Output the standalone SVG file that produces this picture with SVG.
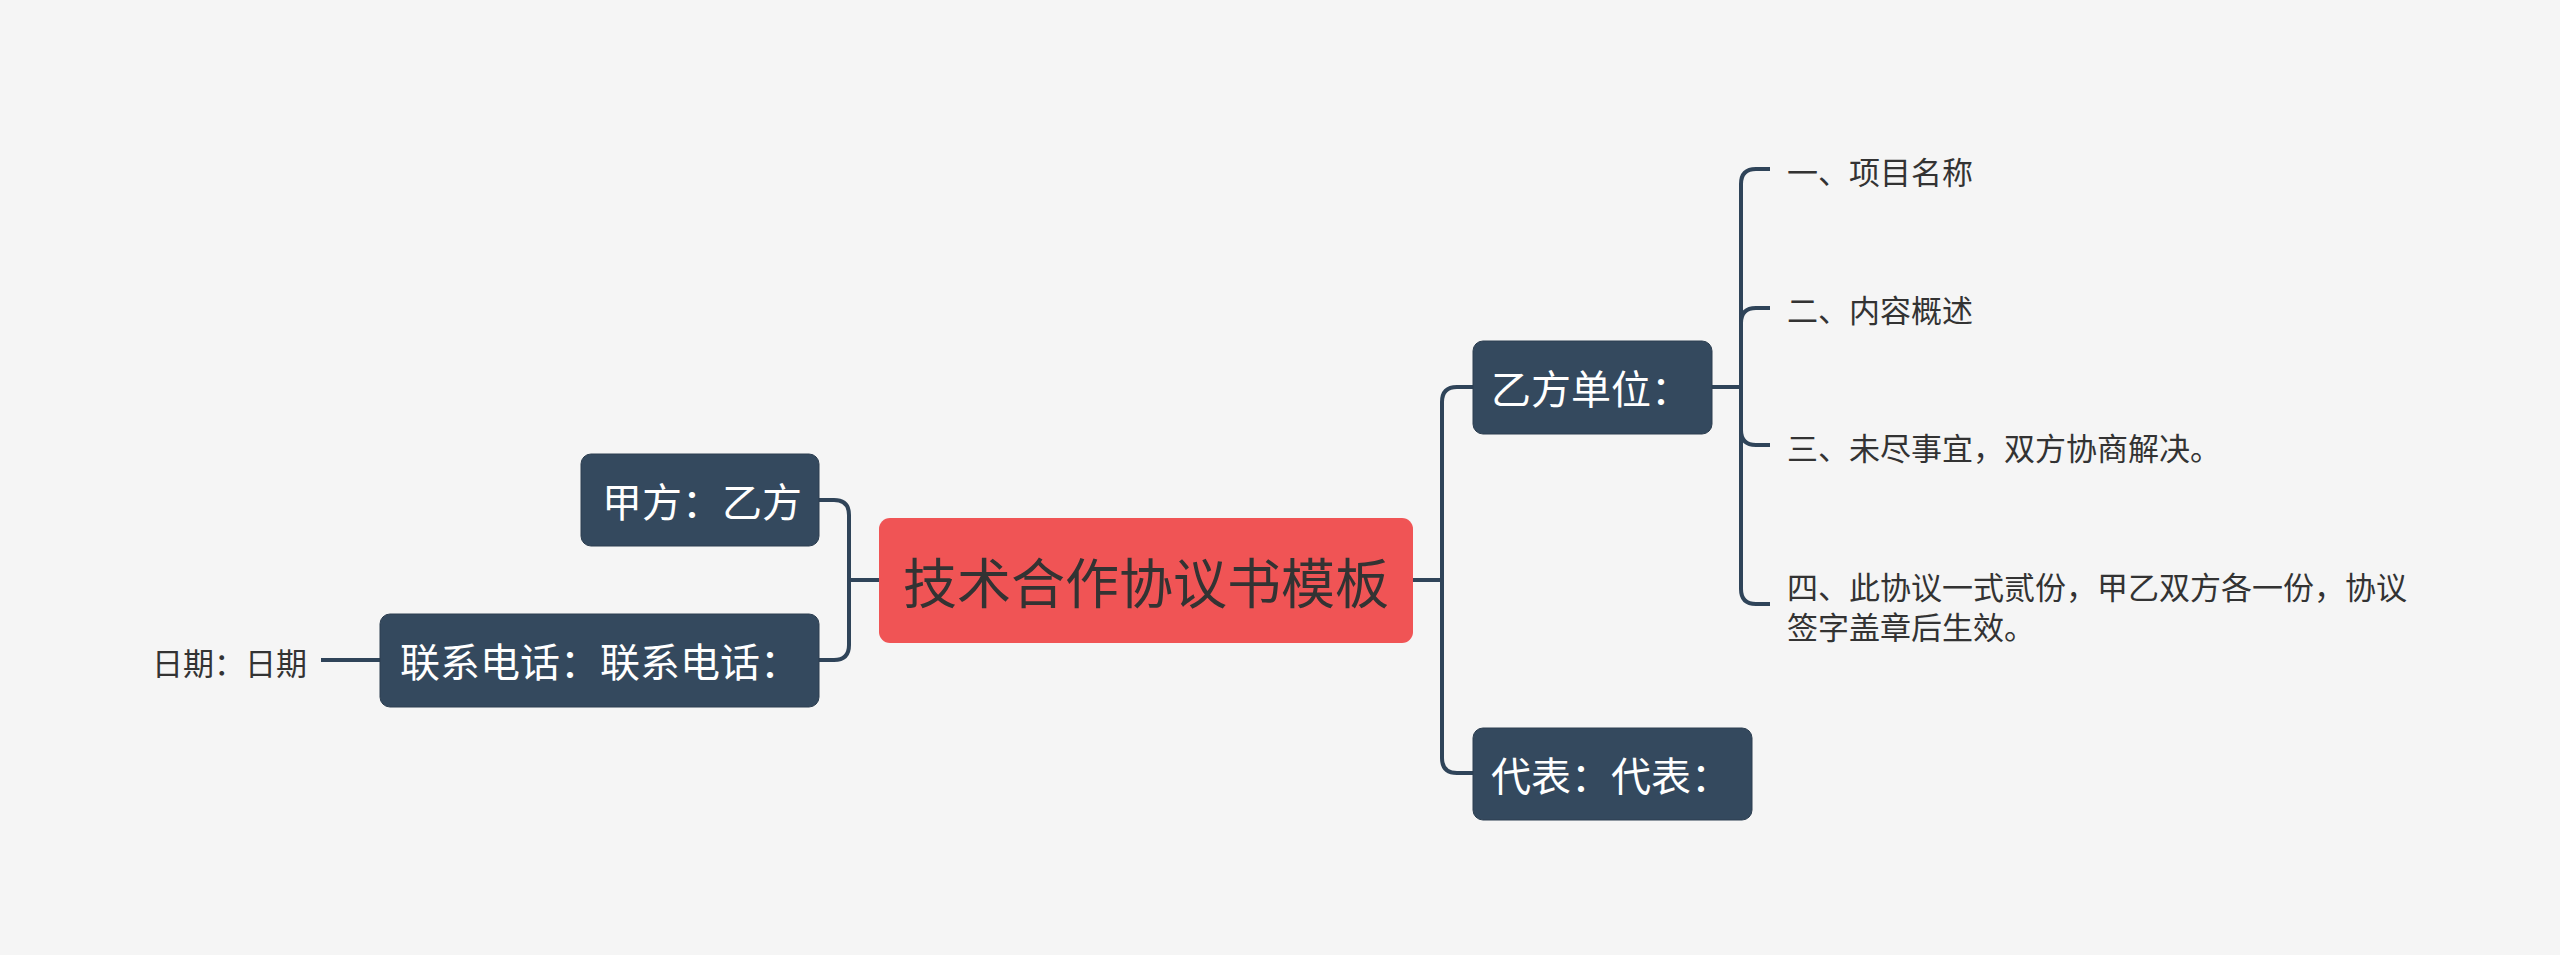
<svg xmlns="http://www.w3.org/2000/svg" width="2560" height="955" viewBox="0 0 2560 955">
<style>
.bg{fill:#f5f5f5}
.box{fill:#34495e;stroke:#2c3e50;stroke-width:1}
.root{fill:#f05455}
.conn{fill:none;stroke:#2f4459;stroke-width:4;stroke-linecap:butt}
text{font-family:"Noto Sans CJK SC","Noto Sans",sans-serif;dominant-baseline:central}
.t-root{font-size:54px;fill:#333333;text-anchor:middle}
.t-box{font-size:40px;fill:#ffffff}
.t-leaf{font-size:31px;fill:#333333}
</style>
<rect class="bg" x="0" y="0" width="2560" height="955"/>
<g id="connectors">
<path class="conn" d="M1412,580 H1442"/>
<path class="conn" d="M1442,580 V402 Q1442,387 1457,387 H1473"/>
<path class="conn" d="M1442,580 V758 Q1442,773 1457,773 H1473"/>
<path class="conn" d="M1712,387 H1741"/>
<path class="conn" d="M1741,387 V184 Q1741,169 1756,169 H1770"/>
<path class="conn" d="M1741,387 V323 Q1741,308 1756,308 H1770"/>
<path class="conn" d="M1741,387 V430 Q1741,445 1756,445 H1770"/>
<path class="conn" d="M1741,387 V589 Q1741,604 1756,604 H1770"/>
<path class="conn" d="M879,580 H849"/>
<path class="conn" d="M849,580 V515 Q849,500 834,500 H819"/>
<path class="conn" d="M849,580 V645 Q849,660 834,660 H819"/>
<path class="conn" d="M380,660 H321"/>
</g>
<g id="root">
<rect class="root" x="879" y="518" width="534" height="125" rx="11"/>
<text class="t-root" x="1146" y="580">技术合作协议书模板</text>
</g>
<g id="yifang">
<rect class="box" x="1473" y="341" width="239" height="93" rx="10"/>
<text class="t-box" x="1491" y="387">乙方单位：</text>
</g>
<g id="daibiao">
<rect class="box" x="1473" y="728" width="279" height="92" rx="10"/>
<text class="t-box" x="1491" y="774">代表：代表：</text>
</g>
<g id="jiafang">
<rect class="box" x="581" y="454" width="238" height="92" rx="10"/>
<text class="t-box" x="602" y="500">甲方：乙方</text>
</g>
<g id="phone">
<rect class="box" x="380" y="614" width="439" height="93" rx="10"/>
<text class="t-box" x="400" y="660">联系电话：联系电话：</text>
</g>
<g id="date">
<text class="t-leaf" x="152" y="661">日期：日期</text>
</g>
<g id="leaf1">
<text class="t-leaf" x="1787" y="170">一、项目名称</text>
</g>
<g id="leaf2">
<text class="t-leaf" x="1787" y="308">二、内容概述</text>
</g>
<g id="leaf3">
<text class="t-leaf" x="1787" y="446">三、未尽事宜，双方协商解决。</text>
</g>
<g id="leaf4">
<text class="t-leaf" x="1787" y="585">四、此协议一式贰份，甲乙双方各一份，协议</text>
<text class="t-leaf" x="1787" y="625">签字盖章后生效。</text>
</g>
</svg>
